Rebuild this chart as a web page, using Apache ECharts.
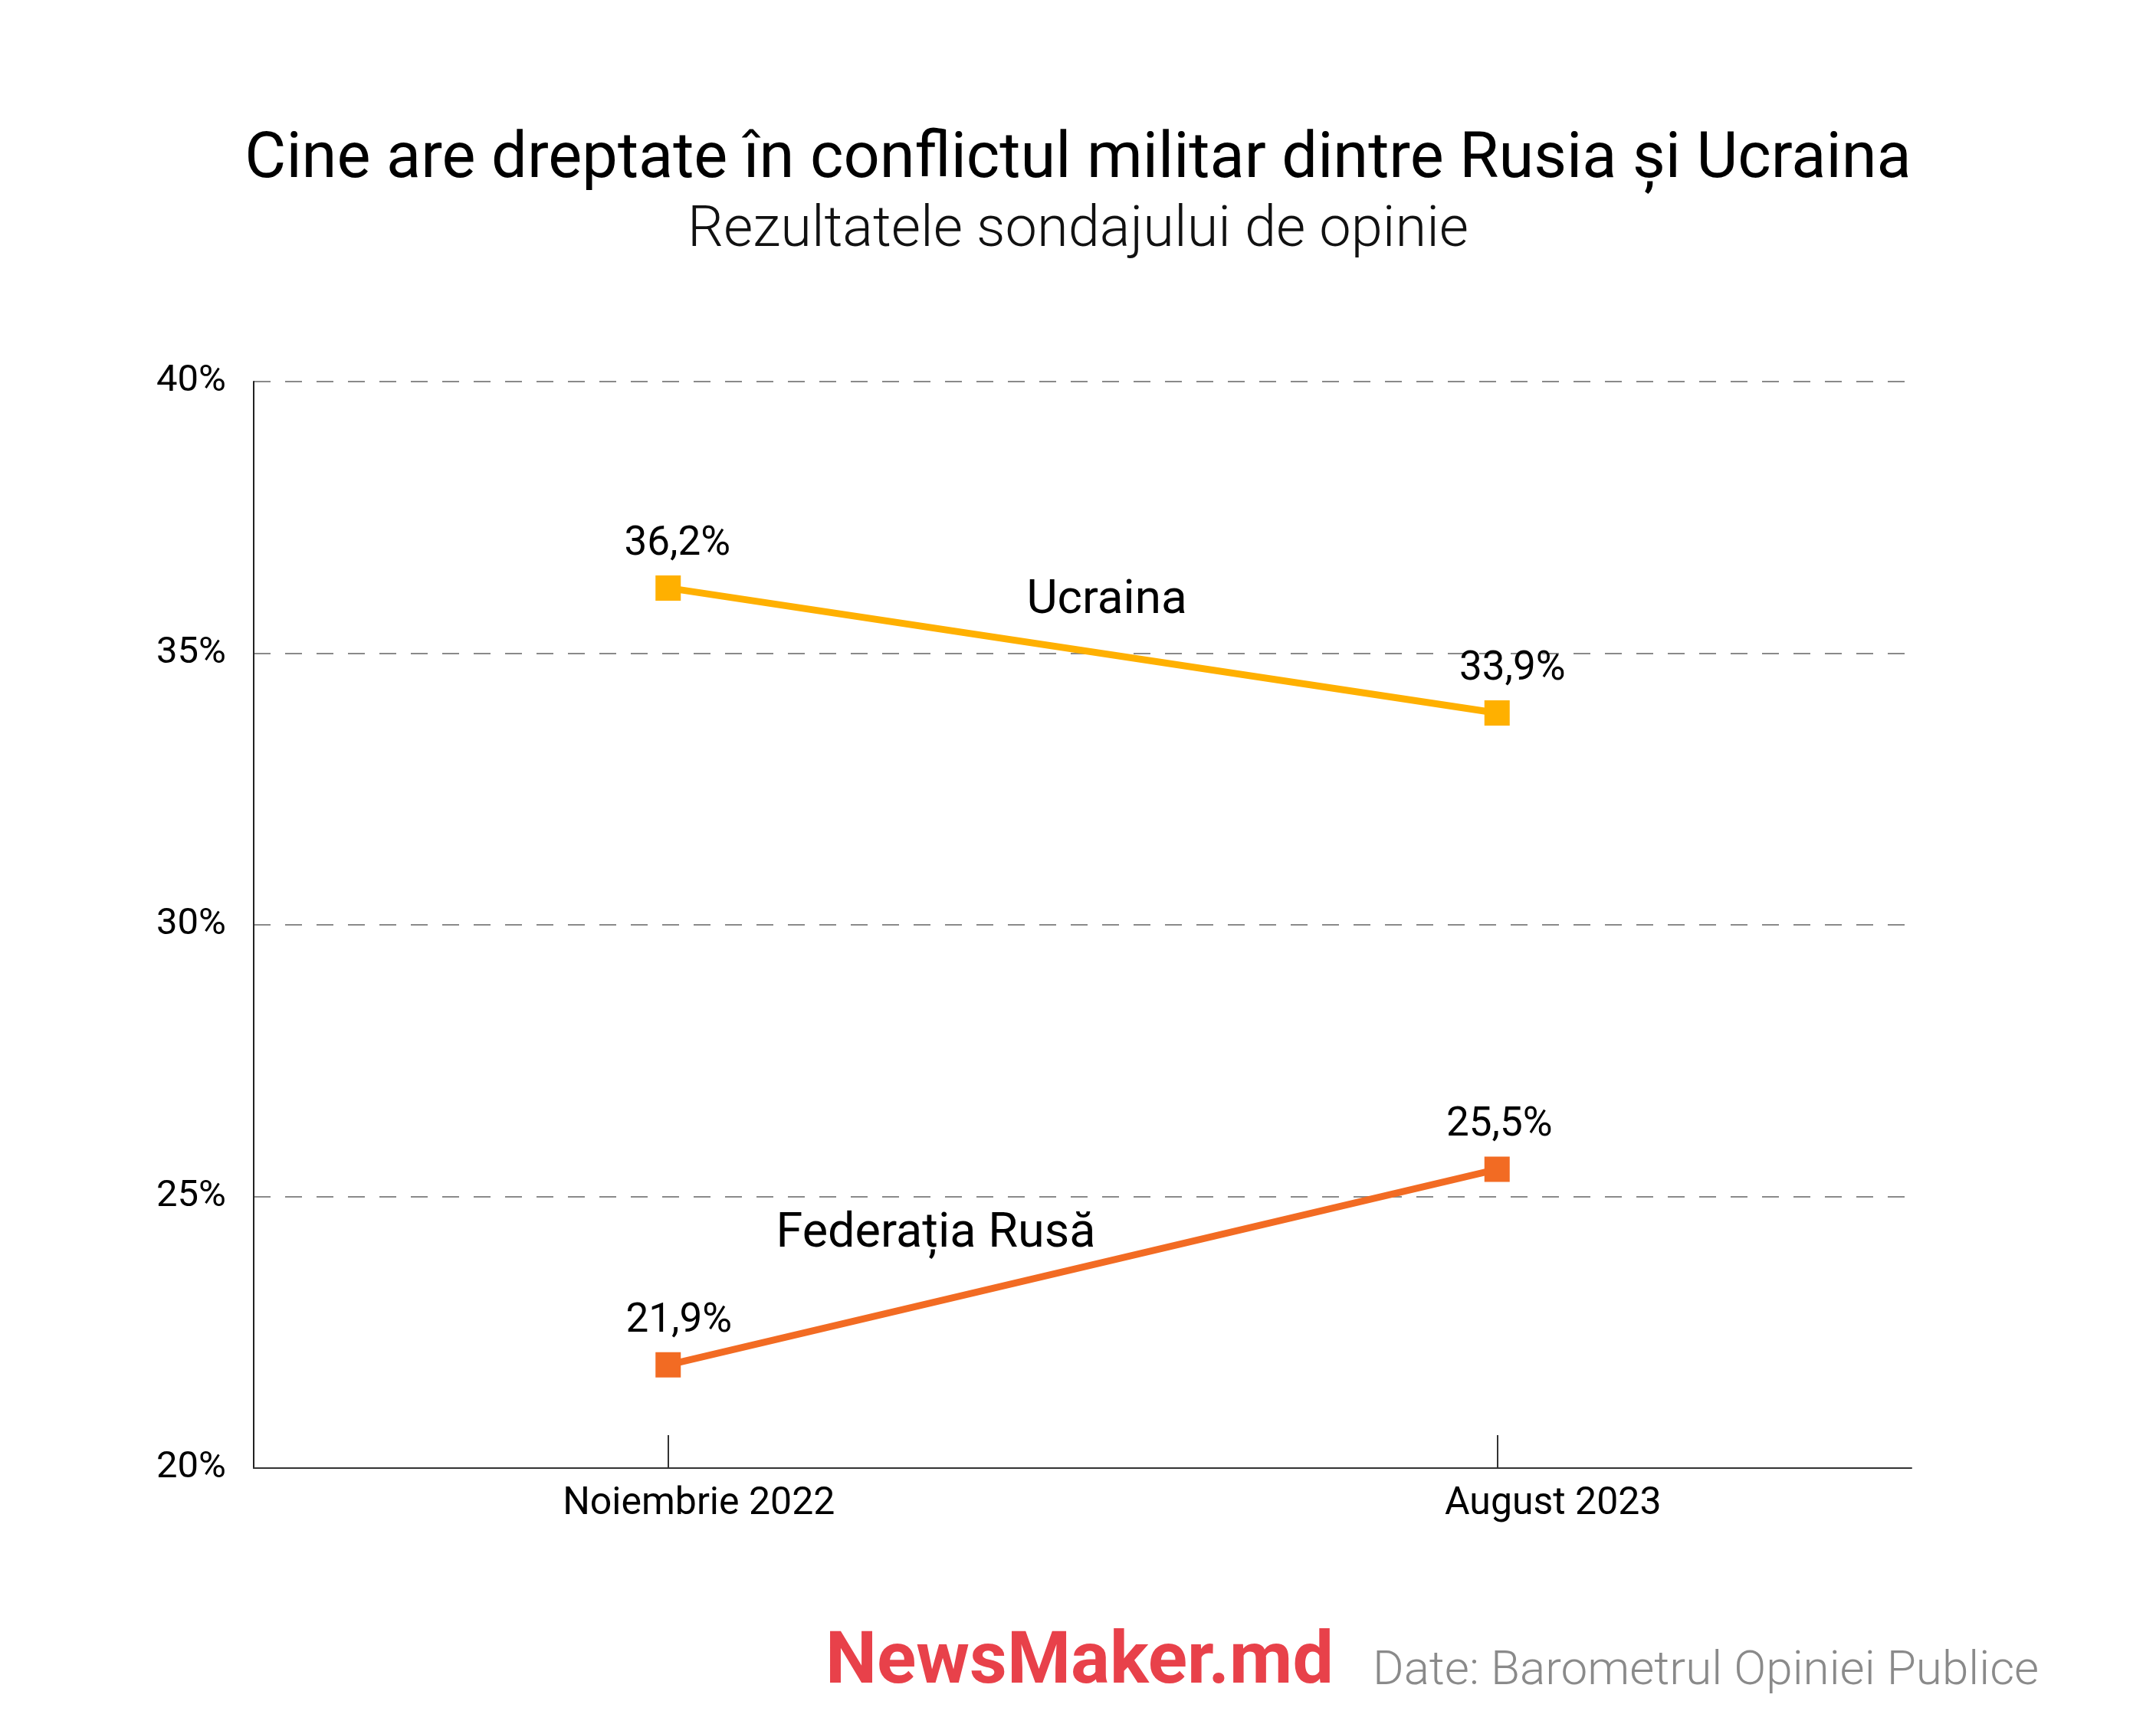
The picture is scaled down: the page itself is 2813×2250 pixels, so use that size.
<!DOCTYPE html>
<html><head><meta charset="utf-8">
<script src="https://cdn.jsdelivr.net/npm/echarts@6/dist/echarts.min.js"></script>
<style>html,body{margin:0;padding:0;background:#fff}#c{width:2813px;height:2250px}</style>
</head><body><div id="c"></div>
<script>
const categories = ['Noiembrie 2022', 'August 2023'];
const ucraina = [36.2, 33.9];
const rusia = [21.9, 25.5];
const seriesNames = ['Ucraina', 'Federația Rusă'];
const yTicks = [20, 25, 30, 35, 40];

const F = 'Roboto';
const fmt = v => String(v).replace('.', ',') + '%';
const labelOffsets = { ucraina: [[12, 0], [20, 0]], rusia: [[14, 0], [3, 0]] };
const catPad = [80, 146];

function mkData(vals, offs) {
  return vals.map((v, i) => ({ value: v, label: { offset: offs[i] } }));
}

const chart = echarts.init(document.getElementById('c'), null, { renderer: 'canvas' });
chart.setOption({
  backgroundColor: '#fff',
  animation: false,
  title: [
    { text: 'Cine are dreptate în conflictul militar dintre Rusia și Ucraina', left: 'center', top: 164,
      textStyle: { fontFamily: F, fontSize: 83, fontWeight: 'normal', color: '#000' } },
    { text: 'Rezultatele sondajului de opinie', left: 'center', top: 260,
      textStyle: { fontFamily: F, fontSize: 74, fontWeight: 300, color: '#111' } }
  ],
  grid: { left: 331, right: 319, top: 498, bottom: 334, containLabel: false },
  xAxis: {
    type: 'category', data: categories, boundaryGap: true,
    axisLine: { lineStyle: { color: '#333', width: 2 } },
    axisTick: { show: true, inside: true, length: 43, alignWithLabel: true, lineStyle: { color: '#333', width: 2 } },
    axisLabel: {
      margin: 22, fontFamily: F, fontSize: 50, color: '#000',
      formatter: (v, i) => '{c' + i + '|' + v + '}',
      rich: {
        c0: { fontFamily: F, fontSize: 50, color: '#000', padding: [0, 0, 0, catPad[0]] },
        c1: { fontFamily: F, fontSize: 50, color: '#000', padding: [0, 0, 0, catPad[1]] }
      }
    },
    splitLine: { show: false }
  },
  yAxis: {
    type: 'value', min: yTicks[0], max: yTicks[yTicks.length - 1], interval: 5,
    axisLine: { show: true, lineStyle: { color: '#222', width: 2 } },
    axisTick: { show: false },
    axisLabel: { margin: 36, fontFamily: F, fontSize: 49, color: '#000', padding: [0, 0, 20, 0],
      formatter: v => v + '%' },
    splitLine: { show: true, lineStyle: { color: '#8a8a8a', width: 2, type: [22, 19] } }
  },
  series: [
    { name: seriesNames[0], type: 'line', data: mkData(ucraina, labelOffsets.ucraina),
      symbol: 'rect', symbolSize: 33, lineStyle: { color: '#FFB000', width: 9 },
      itemStyle: { color: '#FFB000' },
      label: { show: true, position: 'top', distance: 14, fontFamily: F, fontSize: 53, color: '#000', formatter: p => fmt(p.value) } },
    { name: seriesNames[1], type: 'line', data: mkData(rusia, labelOffsets.rusia),
      symbol: 'rect', symbolSize: 33, lineStyle: { color: '#F26B23', width: 9 },
      itemStyle: { color: '#F26B23' },
      label: { show: true, position: 'top', distance: 14, fontFamily: F, fontSize: 53, color: '#000', formatter: p => fmt(p.value) } }
  ],
  graphic: [
    { type: 'text', x: 1444, y: 784, style: { text: seriesNames[0], fontFamily: F, fontSize: 62, fill: '#000', textAlign: 'center', textVerticalAlign: 'middle' } },
    { type: 'text', x: 1221, y: 1611, style: { text: seriesNames[1], fontFamily: F, fontSize: 63, fill: '#000', textAlign: 'center', textVerticalAlign: 'middle' } },
    { type: 'text', x: 1077, y: 2220, style: { text: 'NewsMaker.md', fontFamily: F, fontSize: 95, fontWeight: 'bold', fill: '#E8414A', textAlign: 'left', textVerticalAlign: 'bottom' } },
    { type: 'text', x: 1791, y: 2213, style: { text: 'Date: Barometrul Opiniei Publice', fontFamily: F, fontSize: 62, fontWeight: 300, fill: '#8a8a8a', textAlign: 'left', textVerticalAlign: 'bottom' } }
  ]
});
</script></body></html>
